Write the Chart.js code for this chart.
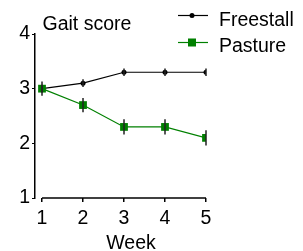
<!DOCTYPE html>
<html>
<head>
<meta charset="utf-8">
<script src="https://cdn.jsdelivr.net/npm/chart.js@4"></script>
<style>
  html, body { margin: 0; padding: 0; background: #fff; }
  #wrap { width: 303px; height: 251px; }
</style>
</head>
<body>
<div id="wrap"><canvas id="c" width="303" height="251"></canvas></div>
<script>
// values
const weeks = [1, 2, 3, 4, 5]
const yTicks = [1, 2, 3, 4]
const freestall = [3.0, 3.1, 3.3, 3.3, 3.3]
const freestallErr = [0.07, 0.07, 0.07, 0.07, 0.07]
const pasture = [3.0, 2.7, 2.3, 2.3, 2.1]
const pastureErr = [0.13, 0.13, 0.14, 0.14, 0.14]

const FONT = '"Liberation Sans", Arial, sans-serif'
const GREEN = '#008000'

const toPoints = (vals) => weeks.map((w, i) => ({ x: w, y: vals[i] }))

// vertical error bars, drawn on top of the markers
const errorBars = {
  id: 'errorBars',
  afterDatasetsDraw(chart) {
    const { ctx, scales: { x, y } } = chart
    const sets = [[freestall, freestallErr], [pasture, pastureErr]]
    ctx.save()
    ctx.strokeStyle = '#222'
    ctx.lineWidth = 1.5
    sets.forEach(([vals, errs]) => {
      weeks.forEach((w, i) => {
        const px = x.getPixelForValue(w)
        ctx.beginPath()
        ctx.moveTo(px, y.getPixelForValue(vals[i] - errs[i]))
        ctx.lineTo(px, y.getPixelForValue(vals[i] + errs[i]))
        ctx.stroke()
      })
    })
    ctx.restore()
  }
}

// x axis line only spans week 1..5, plus title / legend / axis label text
const decorations = {
  id: 'decorations',
  afterDraw(chart) {
    const { ctx, scales: { x, y } } = chart
    ctx.save()
    ctx.strokeStyle = '#000'
    ctx.lineWidth = 1.5
    const yb = y.getPixelForValue(1)
    ctx.beginPath()
    ctx.moveTo(x.getPixelForValue(weeks[0]), yb)
    ctx.lineTo(x.getPixelForValue(weeks[weeks.length - 1]), yb)
    ctx.stroke()

    ctx.fillStyle = '#000'
    ctx.font = '19.5px ' + FONT
    ctx.textBaseline = 'alphabetic'
    ctx.textAlign = 'left'
    ctx.fillText('Gait score', 42.5, 30)

    // legend
    const lx0 = 178, lx1 = 208, mx = 192
    ctx.lineWidth = 1.2
    ctx.strokeStyle = '#000'
    ctx.beginPath(); ctx.moveTo(lx0, 15.5); ctx.lineTo(lx1, 15.5); ctx.stroke()
    ctx.beginPath(); ctx.arc(mx, 15.5, 2.5, 0, Math.PI * 2); ctx.fill()
    ctx.fillText('Freestall', 219, 26)

    ctx.strokeStyle = GREEN
    ctx.beginPath(); ctx.moveTo(lx0, 42.5); ctx.lineTo(lx1, 42.5); ctx.stroke()
    ctx.fillStyle = GREEN
    ctx.fillRect(mx - 4, 38.5, 8, 8)
    ctx.fillStyle = '#000'
    ctx.fillText('Pasture', 219, 52)

    ctx.textAlign = 'center'
    ctx.fillText('Week', 131, 249)
    ctx.restore()
  }
}

const chart = new Chart(document.getElementById('c'), {
  type: 'line',
  data: {
    datasets: [
      {
        label: 'Freestall',
        data: toPoints(freestall),
        borderColor: '#000',
        backgroundColor: '#000',
        borderWidth: 1.2,
        pointStyle: 'circle',
        pointRadius: 2.5,
        pointBorderWidth: 0,
        order: 1
      },
      {
        label: 'Pasture',
        data: toPoints(pasture),
        borderColor: GREEN,
        backgroundColor: GREEN,
        borderWidth: 1.2,
        pointStyle: 'rect',
        pointRadius: 5.5,
        pointBorderWidth: 0,
        order: 0
      }
    ]
  },
  options: {
    responsive: false,
    animation: false,
    events: [],
    layout: { padding: { top: 34, right: 97, left: 0, bottom: 0 } },
    plugins: {
      legend: { display: false },
      title: { display: false },
      tooltip: { enabled: false }
    },
    scales: {
      x: {
        type: 'linear',
        min: 0.829,
        max: 5,
        afterBuildTicks: (s) => { s.ticks = weeks.map(v => ({ value: v })) },
        afterFit: (s) => { s.height = 53 },
        border: { display: false },
        grid: { drawOnChartArea: false, drawTicks: true, tickLength: 4, color: '#000', lineWidth: 1.5 },
        ticks: { color: '#000', font: { family: FONT, size: 19.5 }, padding: 5, maxRotation: 0 }
      },
      y: {
        min: 1,
        max: 4,
        afterBuildTicks: (s) => { s.ticks = yTicks.map(v => ({ value: v })) },
        afterFit: (s) => { s.width = 35 },
        border: { display: true, color: '#000', width: 1.5 },
        grid: { drawOnChartArea: false, drawTicks: true, tickLength: 3, color: '#000', lineWidth: 1 },
        ticks: { color: '#000', font: { family: FONT, size: 19.5 }, padding: 2 }
      }
    }
  },
  plugins: [errorBars, decorations]
})
</script>
</body>
</html>
